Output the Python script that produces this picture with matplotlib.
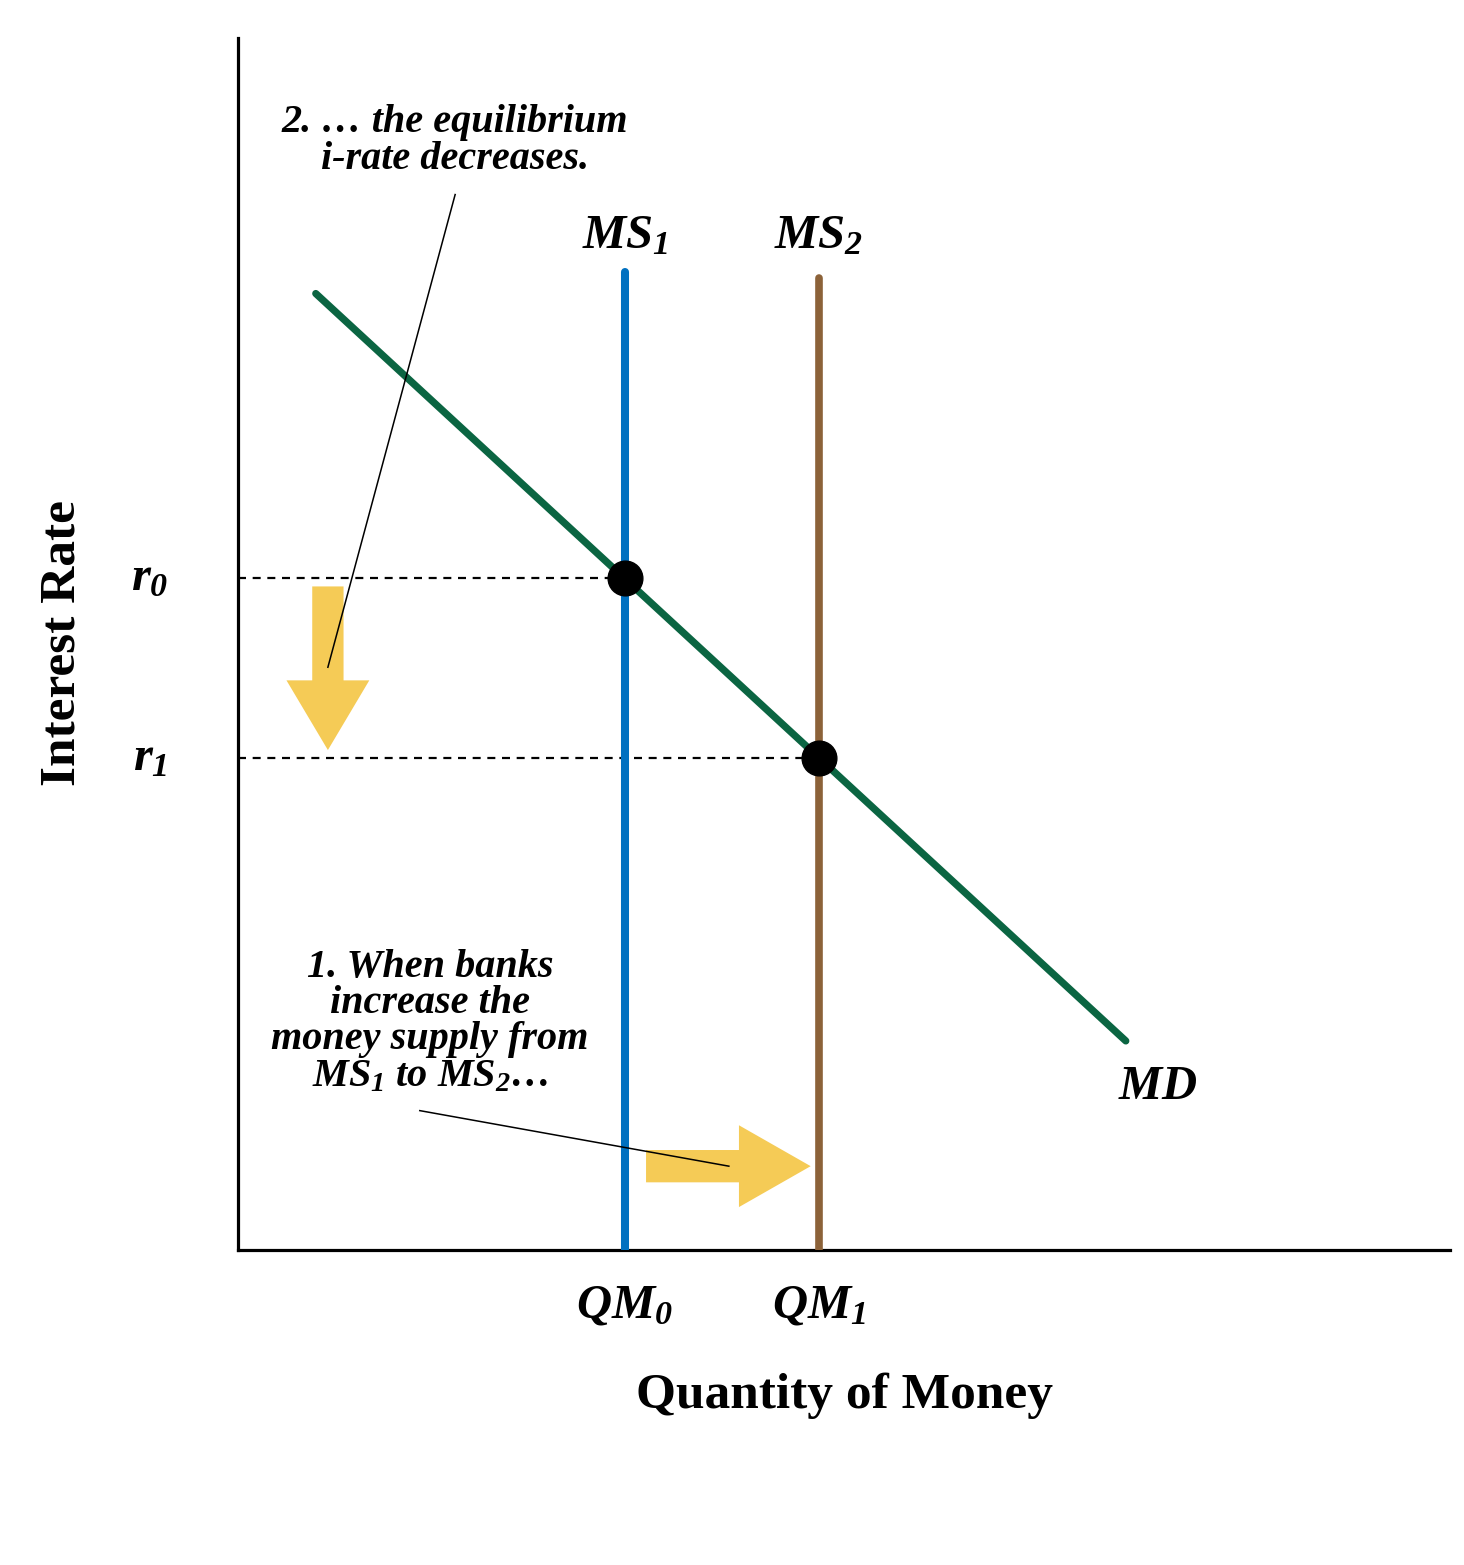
import matplotlib
matplotlib.use("Agg")
import matplotlib.pyplot as plt
from matplotlib import rcParams

rcParams["font.family"] = "Liberation Serif"
rcParams["mathtext.fontset"] = "custom"
rcParams["mathtext.rm"] = "Liberation Serif:bold:italic"
rcParams["mathtext.it"] = "Liberation Serif:bold:italic"
rcParams["mathtext.bf"] = "Liberation Serif:bold:italic"

# Data (abstract units, axes run 0..12 both ways)
qm = [3.83, 5.75]            # QM0, QM1
rates = [6.65, 4.87]         # r0, r1
md_x = [0.77, 8.79]          # money demand line end points
md_y = [9.47, 2.07]
ms_top = [9.68, 9.62]        # top of MS1, MS2
qm_labels = [r"$QM_0$", r"$QM_1$"]
r_labels = [r"$r_0$", r"$r_1$"]
ms_labels = [r"$MS_1$", r"$MS_2$"]

GREEN = "#0B6542"
BLUE = "#0070C0"
BROWN = "#8C6239"
YELLOW = "#F5CB56"

fig = plt.figure(figsize=(14.64, 15.65), dpi=100)
ax = fig.add_axes([238 / 1464, 315 / 1565, 1212 / 1464, 1212 / 1565])
ax.set_xlim(0, 12)
ax.set_ylim(0, 12)
for s in ["top", "right"]:
    ax.spines[s].set_visible(False)
for s in ["left", "bottom"]:
    ax.spines[s].set_linewidth(2.3)
ax.set_xticks([])
ax.set_yticks([])

# dashed guides
for q, r in zip(qm, rates):
    ax.plot([0, q], [r, r], color="black", lw=1.6, ls=(0, (3.6, 3.0)), zorder=1)

# curves
ax.plot(md_x, md_y, color=GREEN, lw=5.2, solid_capstyle="round", zorder=3)
ax.plot([qm[0], qm[0]], [0, ms_top[0]], color=BLUE, lw=5.8, solid_capstyle="round", zorder=4)
ax.plot([qm[1], qm[1]], [0, ms_top[1]], color=BROWN, lw=5.5, solid_capstyle="round", zorder=4)
ax.plot(qm, rates, "o", color="black", markersize=25, zorder=6)

# yellow arrows
ax.arrow(0.89, rates[0] - 0.08, 0, -(rates[0] - rates[1] - 0.16), width=0.31,
         head_width=0.82, head_length=0.69, length_includes_head=True,
         color=YELLOW, lw=0, zorder=2)
ax.arrow(qm[0] + 0.21, 0.83, qm[1] - qm[0] - 0.29, 0, width=0.32,
         head_width=0.81, head_length=0.71, length_includes_head=True,
         color=YELLOW, lw=0, zorder=2)

# leader lines
ax.plot([2.15, 0.89], [10.45, 5.77], color="black", lw=1.1, zorder=5)
ax.plot([1.80, 4.86], [1.38, 0.83], color="black", lw=1.1, zorder=5)

# labels
lab = dict(fontsize=35, ha="center", clip_on=False)
for q, t in zip(qm, ms_labels):
    ax.text(q, 9.92, t, va="baseline", **lab)
for q, t in zip(qm, qm_labels):
    ax.text(q, -0.67, t, va="baseline", **lab)
for r, t in zip(rates, r_labels):
    ax.text(-0.87, r - 0.12, t, va="baseline", **lab)
ax.text(9.11, 1.61, r"$MD$", va="center", **lab)

ax.text(2.15, 10.98, "2. … the equilibrium\ni-rate decreases.", fontsize=29,
        fontweight="bold", fontstyle="italic", ha="center", va="center",
        linespacing=0.98)
ax.text(1.90, 2.26, "1. When banks\nincrease the\nmoney supply from\n$MS_1$ to $MS_2$…",
        fontsize=29, fontweight="bold", fontstyle="italic", ha="center",
        va="center", linespacing=0.98)

ax.text(-1.74, 6.01, "Interest Rate", fontsize=37, fontweight="bold",
        rotation=90, ha="center", va="center", clip_on=False)
ax.text(6.0, -1.44, "Quantity of Money", fontsize=37, fontweight="bold",
        ha="center", va="center", clip_on=False)

plt.savefig("out.png", dpi=100)
